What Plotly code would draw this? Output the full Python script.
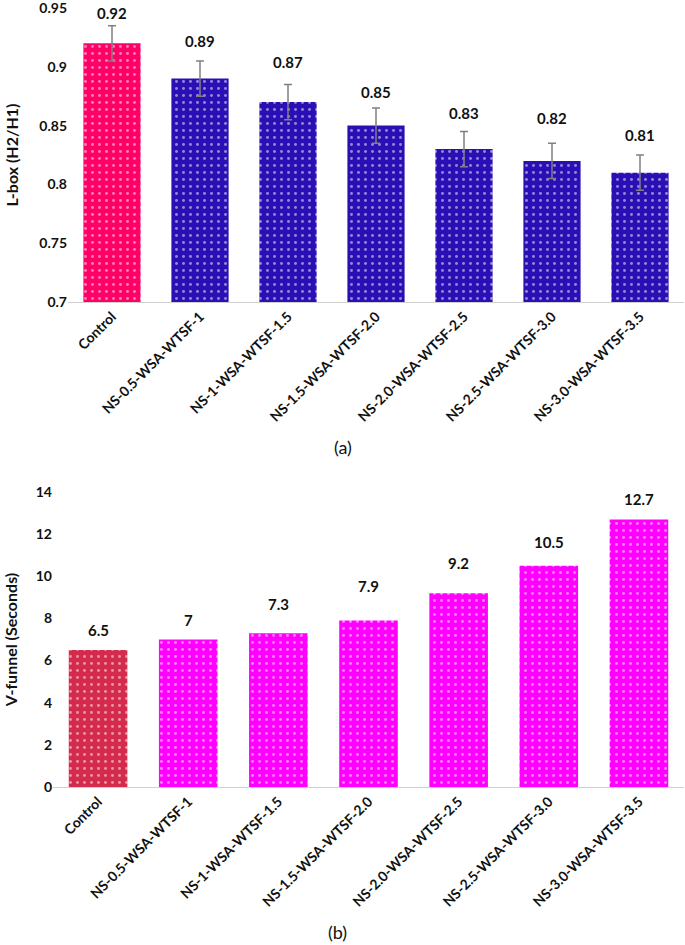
import plotly.graph_objects as go

categories = ["Control", "NS-0.5-WSA-WTSF-1", "NS-1-WSA-WTSF-1.5", "NS-1.5-WSA-WTSF-2.0",
              "NS-2.0-WSA-WTSF-2.5", "NS-2.5-WSA-WTSF-3.0", "NS-3.0-WSA-WTSF-3.5"]
lbox = [0.92, 0.89, 0.87, 0.85, 0.83, 0.82, 0.81]
lbox_err = [0.015, 0.015, 0.015, 0.015, 0.015, 0.015, 0.015]
vfunnel = [6.5, 7, 7.3, 7.9, 9.2, 10.5, 12.7]
lbox_ticks = [0.7, 0.75, 0.8, 0.85, 0.9, 0.95]
lbox_ticklabels = ["0.7", "0.75", "0.8", "0.85", "0.9", "0.95"]
vf_ticks = [0, 2, 4, 6, 8, 10, 12, 14]

# label offsets (pixels) as placed in the original
lbox_label_shift = [2, 9, 11, 5, 7, 14, 9]
vf_label_shift = [9, 9, 18, 24, 19, 13, 9]

FONT = "Lato"
top_colors = ["#FF0066"] + ["#2A0FB4"] * 6
bot_colors = ["#D42A4C"] + ["#FF00FF"] * 6

fig = go.Figure()
fig.add_trace(go.Bar(
    x=categories, y=lbox, xaxis="x", yaxis="y",
    marker=dict(color=top_colors, line=dict(width=0),
                pattern=dict(shape=".", fillmode="overlay",
                             fgcolor="white", size=7, solidity=0.14)),
    error_y=dict(type="data", array=lbox_err, color="#808080", thickness=1.5, width=4),
    showlegend=False))
fig.add_trace(go.Bar(
    x=categories, y=vfunnel, xaxis="x2", yaxis="y2",
    marker=dict(color=bot_colors, line=dict(width=0),
                pattern=dict(shape=".", fillmode="overlay",
                             fgcolor="white", size=7, solidity=0.14)),
    showlegend=False))

annotations = []
for c, v, e, s in zip(categories, lbox, lbox_err, lbox_label_shift):
    annotations.append(dict(x=c, y=v + e, xref="x", yref="y", text=f"{v:g}", showarrow=False,
                            yanchor="bottom", yshift=s, font=dict(family=FONT, size=15, color="#111", weight="bold")))
for c, v, s in zip(categories, vfunnel, vf_label_shift):
    annotations.append(dict(x=c, y=v, xref="x2", yref="y2", text=f"{v:g}", showarrow=False,
                            yanchor="bottom", yshift=s, font=dict(family=FONT, size=15, color="#111", weight="bold")))
annotations.append(dict(x=0.5, y=1 - 447 / 945, xref="paper", yref="paper", text="(a)", showarrow=False,
                        xanchor="center", yanchor="middle", font=dict(family=FONT, size=18, color="#111")))
annotations.append(dict(x=0.492, y=1 - 932 / 945, xref="paper", yref="paper", text="(b)", showarrow=False,
                        xanchor="center", yanchor="middle", font=dict(family=FONT, size=18, color="#111")))

tickfont = dict(family=FONT, size=14, color="#111", weight="bold")
titlefont = dict(family=FONT, size=16, color="#111", weight="bold")

fig.update_layout(
    width=685, height=945,
    margin=dict(l=0, r=0, t=0, b=0, autoexpand=False),
    plot_bgcolor="white", paper_bgcolor="white",
    bargap=0.35,
    annotations=annotations,
    xaxis=dict(domain=[68 / 685, 684 / 685], anchor="y", tickangle=-45, tickfont=tickfont,
               showline=True, linecolor="#D0D0D0", linewidth=1, ticks="", automargin=False),
    yaxis=dict(domain=[1 - 302 / 945, 1 - 8 / 945], anchor="x", range=[0.7, 0.95],
               tickmode="array", tickvals=lbox_ticks, ticktext=lbox_ticklabels,
               ticklabeloverflow="allow",
               showgrid=False, zeroline=False, tickfont=tickfont, automargin=False,
               title=dict(text="L-box (H2/H1)", font=titlefont, standoff=16)),
    xaxis2=dict(domain=[53 / 685, 684 / 685], anchor="y2", tickangle=-45, tickfont=tickfont,
                showline=True, linecolor="#D0D0D0", linewidth=1, ticks="", automargin=False),
    yaxis2=dict(domain=[1 - 787 / 945, 1 - 492 / 945], anchor="x2", range=[0, 14],
                tickmode="array", tickvals=vf_ticks, ticklabeloverflow="allow",
                showgrid=False, zeroline=False, tickfont=tickfont, automargin=False,
                title=dict(text="V-funnel (Seconds)", font=titlefont, standoff=14)),
)

fig.write_html("out.html", config={"displayModeBar": False},
               post_script="document.body.style.margin='0';")
